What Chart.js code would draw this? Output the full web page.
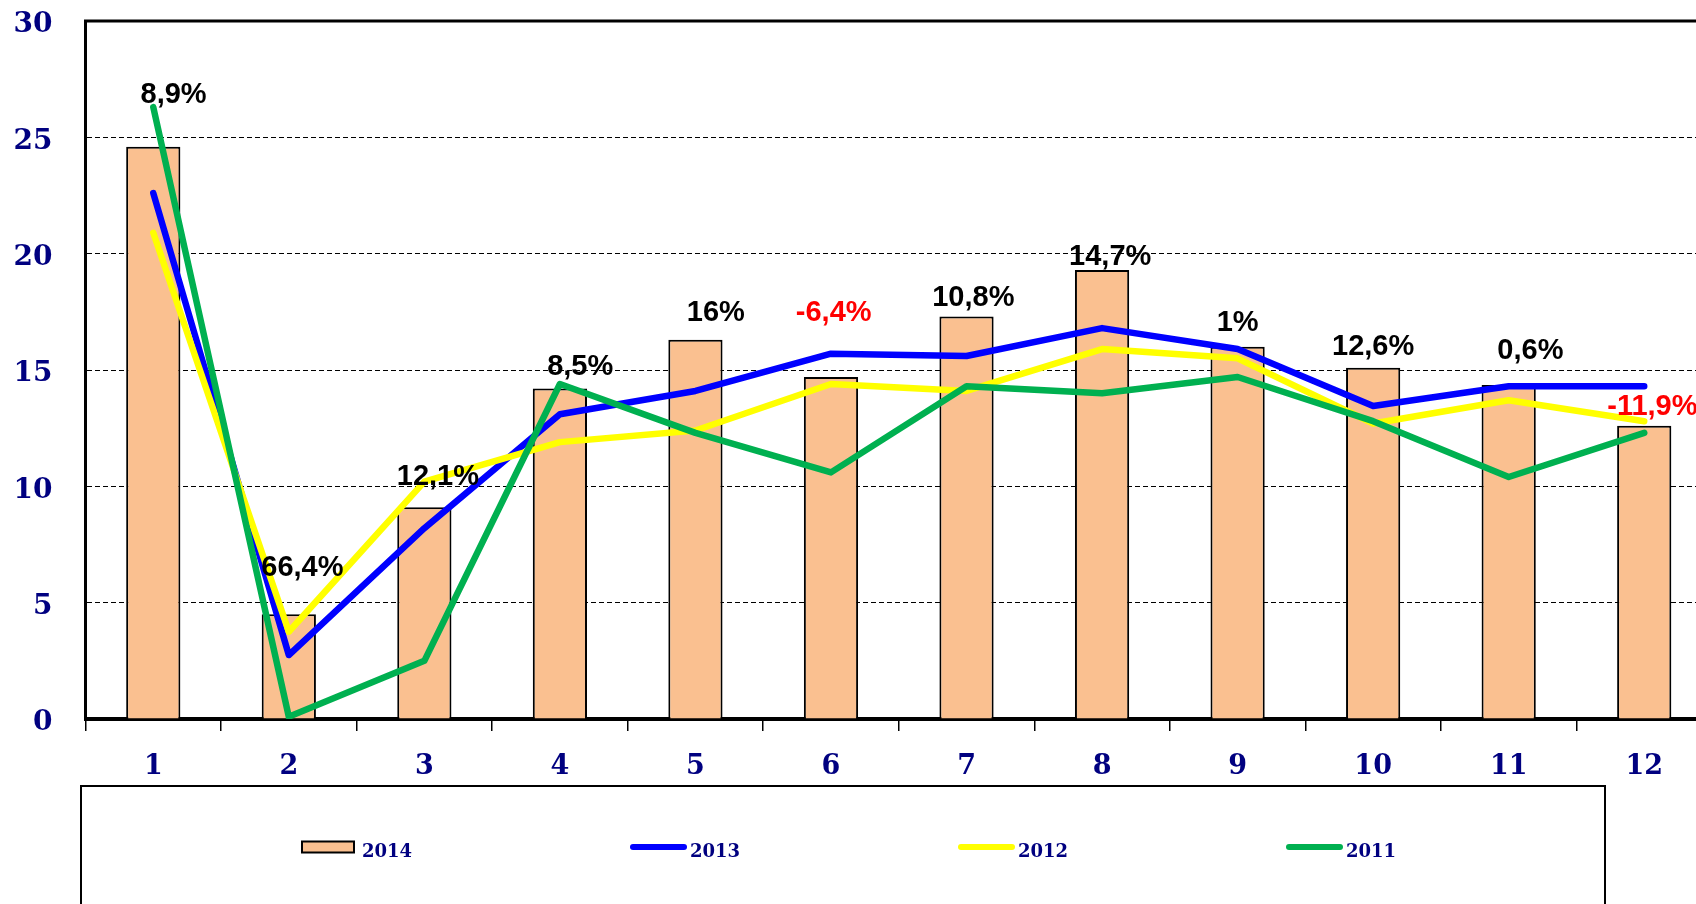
<!DOCTYPE html>
<html>
<head>
<meta charset="utf-8">
<script src="https://cdn.jsdelivr.net/npm/chart.js@4.4.1/dist/chart.umd.min.js"></script>
<style>
    html, body { margin: 0; padding: 0; background: #fff; overflow: hidden; }
    #wrap { width: 1696px; height: 904px; overflow: hidden; }
    canvas { display: block; }
</style>
</head>
<body>
<div id="wrap"><canvas id="chart" width="1712" height="904"></canvas></div>
<script>
const months = ["1", "2", "3", "4", "5", "6", "7", "8", "9", "10", "11", "12"];

const values2014 = [24.6, 4.5, 9.1, 14.2, 16.3, 14.7, 17.3, 19.3, 16.0, 15.1, 14.35, 12.6];
const values2013 = [22.6, 2.75, 8.2, 13.1, 14.1, 15.7, 15.6, 16.8, 15.9, 13.45, 14.3, 14.3];
const values2012 = [20.9, 3.75, 10.2, 11.9, 12.4, 14.4, 14.1, 15.9, 15.5, 12.7, 13.7, 12.8];
const values2011 = [26.3, 0.1, 2.5, 14.4, 12.3, 10.6, 14.3, 14.0, 14.7, 12.8, 10.4, 12.3];

const yMin = 0;
const yMax = 30;
const yStep = 5;

// growth notes written over the bars, placed where the original put them
const growthText = ["8,9%", "66,4%", "12,1%", "8,5%", "16%", "-6,4%", "10,8%", "14,7%", "1%", "12,6%", "0,6%", "-11,9%"];
const growthCat = [0.15, 1.10, 2.10, 3.15, 4.15, 5.02, 6.05, 7.06, 8.0, 9.0, 10.16, 11.06];
const growthLevel = [26.8, 6.51, 10.38, 15.13, 17.45, 17.47, 18.09, 19.84, 17.02, 16.01, 15.82, 13.41];

const navy = "#000080";
const ctx = document.getElementById("chart").getContext("2d");

const framePlugin = {
    id: "frame",
    beforeDatasetsDraw(chart) {
        const c = chart.ctx;
        const a = chart.chartArea;
        c.save();
        c.strokeStyle = "#000";
        c.lineWidth = 3;
        c.beginPath();
        c.moveTo(a.left - 1.5, a.top);
        c.lineTo(a.right, a.top);
        c.stroke();
        c.restore();
    }
};

const notesPlugin = {
    id: "notes",
    afterDatasetsDraw(chart) {
        const c = chart.ctx;
        const x = chart.scales.x;
        const y = chart.scales.y;
        c.save();
        c.font = "bold 29px 'Liberation Sans', Arial, sans-serif";
        c.textAlign = "center";
        c.textBaseline = "middle";
        growthText.forEach((t, i) => {
            c.fillStyle = t.startsWith("-") ? "#ff0000" : "#000";
            c.fillText(t, x.getPixelForValue(growthCat[i]), y.getPixelForValue(growthLevel[i]));
        });
        c.restore();
    }
};

const legendPlugin = {
    id: "boxLegend",
    afterDraw(chart) {
        const c = chart.ctx;
        const a = chart.chartArea;
        const left = a.left - 4.5;
        const top = a.bottom + 67;
        c.save();
        c.strokeStyle = "#000";
        c.lineWidth = 2;
        c.strokeRect(left, top, 1605 - left, chart.height - top + 10);

        const cy = top + 61;
        c.font = "bold 18px 'DejaVu Serif', serif";
        c.textBaseline = "middle";
        c.textAlign = "left";
        chart.data.datasets.forEach((ds, i) => {
            const x0 = 302 + i * 328;
            if (ds.type === "bar") {
                c.fillStyle = ds.backgroundColor;
                c.fillRect(x0, cy - 5.5, 52, 11);
                c.strokeStyle = "#000";
                c.lineWidth = 2;
                c.strokeRect(x0, cy - 5.5, 52, 11);
            } else {
                c.strokeStyle = ds.borderColor;
                c.lineWidth = 6;
                c.lineCap = "round";
                c.beginPath();
                c.moveTo(x0 + 3, cy);
                c.lineTo(x0 + 54, cy);
                c.stroke();
            }
            c.fillStyle = navy;
            c.fillText(ds.label, x0 + 60, cy + 5);
        });
        c.restore();
    }
};

function lineSet(label, data, color, order) {
    return {
        type: "line",
        label: label,
        data: data,
        borderColor: color,
        backgroundColor: color,
        borderWidth: 6.5,
        pointRadius: 0,
        tension: 0,
        borderCapStyle: "round",
        borderJoinStyle: "round",
        order: order
    };
}

const chart = new Chart(ctx, {
    type: "bar",
    data: {
        labels: months,
        datasets: [
            {
                type: "bar",
                label: "2014",
                data: values2014,
                backgroundColor: "#FAC090",
                borderColor: "#000",
                borderWidth: 2,
                barPercentage: 0.4,
                categoryPercentage: 1,
                order: 4
            },
            lineSet("2013", values2013, "#0000ff", 3),
            lineSet("2012", values2012, "#ffff00", 2),
            lineSet("2011", values2011, "#00b050", 1)
        ]
    },
    options: {
        responsive: false,
        animation: false,
        layout: { padding: { top: 21, left: 0, right: 0, bottom: 0 } },
        plugins: {
            legend: { display: false },
            tooltip: { enabled: false }
        },
        scales: {
            x: {
                offset: true,
                grid: {
                    offset: true,
                    drawOnChartArea: false,
                    drawTicks: true,
                    tickLength: 12,
                    color: "#000",
                    lineWidth: 1.5
                },
                border: { display: true, color: "#000", width: 4 },
                ticks: {
                    color: navy,
                    font: { family: "'DejaVu Serif', serif", size: 27, weight: "bold" },
                    padding: 20,
                    maxRotation: 0,
                    autoSkip: false
                },
                afterFit(scale) {
                    scale.height = 185;
                    scale.paddingLeft = 0;
                    scale.paddingRight = 0;
                }
            },
            y: {
                min: yMin,
                max: yMax,
                ticks: {
                    stepSize: yStep,
                    color: navy,
                    font: { family: "'DejaVu Serif', serif", size: 28, weight: "bold" },
                    padding: 33,
                    labelOffset: 4
                },
                grid: { color: "#000", lineWidth: 1, drawTicks: false },
                border: { display: true, color: "#000", width: 3, dash: [5, 3] },
                afterFit(scale) {
                    scale.width = 85.5;
                    scale.paddingTop = 0;
                    scale.paddingBottom = 0;
                }
            }
        }
    },
    plugins: [framePlugin, notesPlugin, legendPlugin]
});
</script>
</body>
</html>
